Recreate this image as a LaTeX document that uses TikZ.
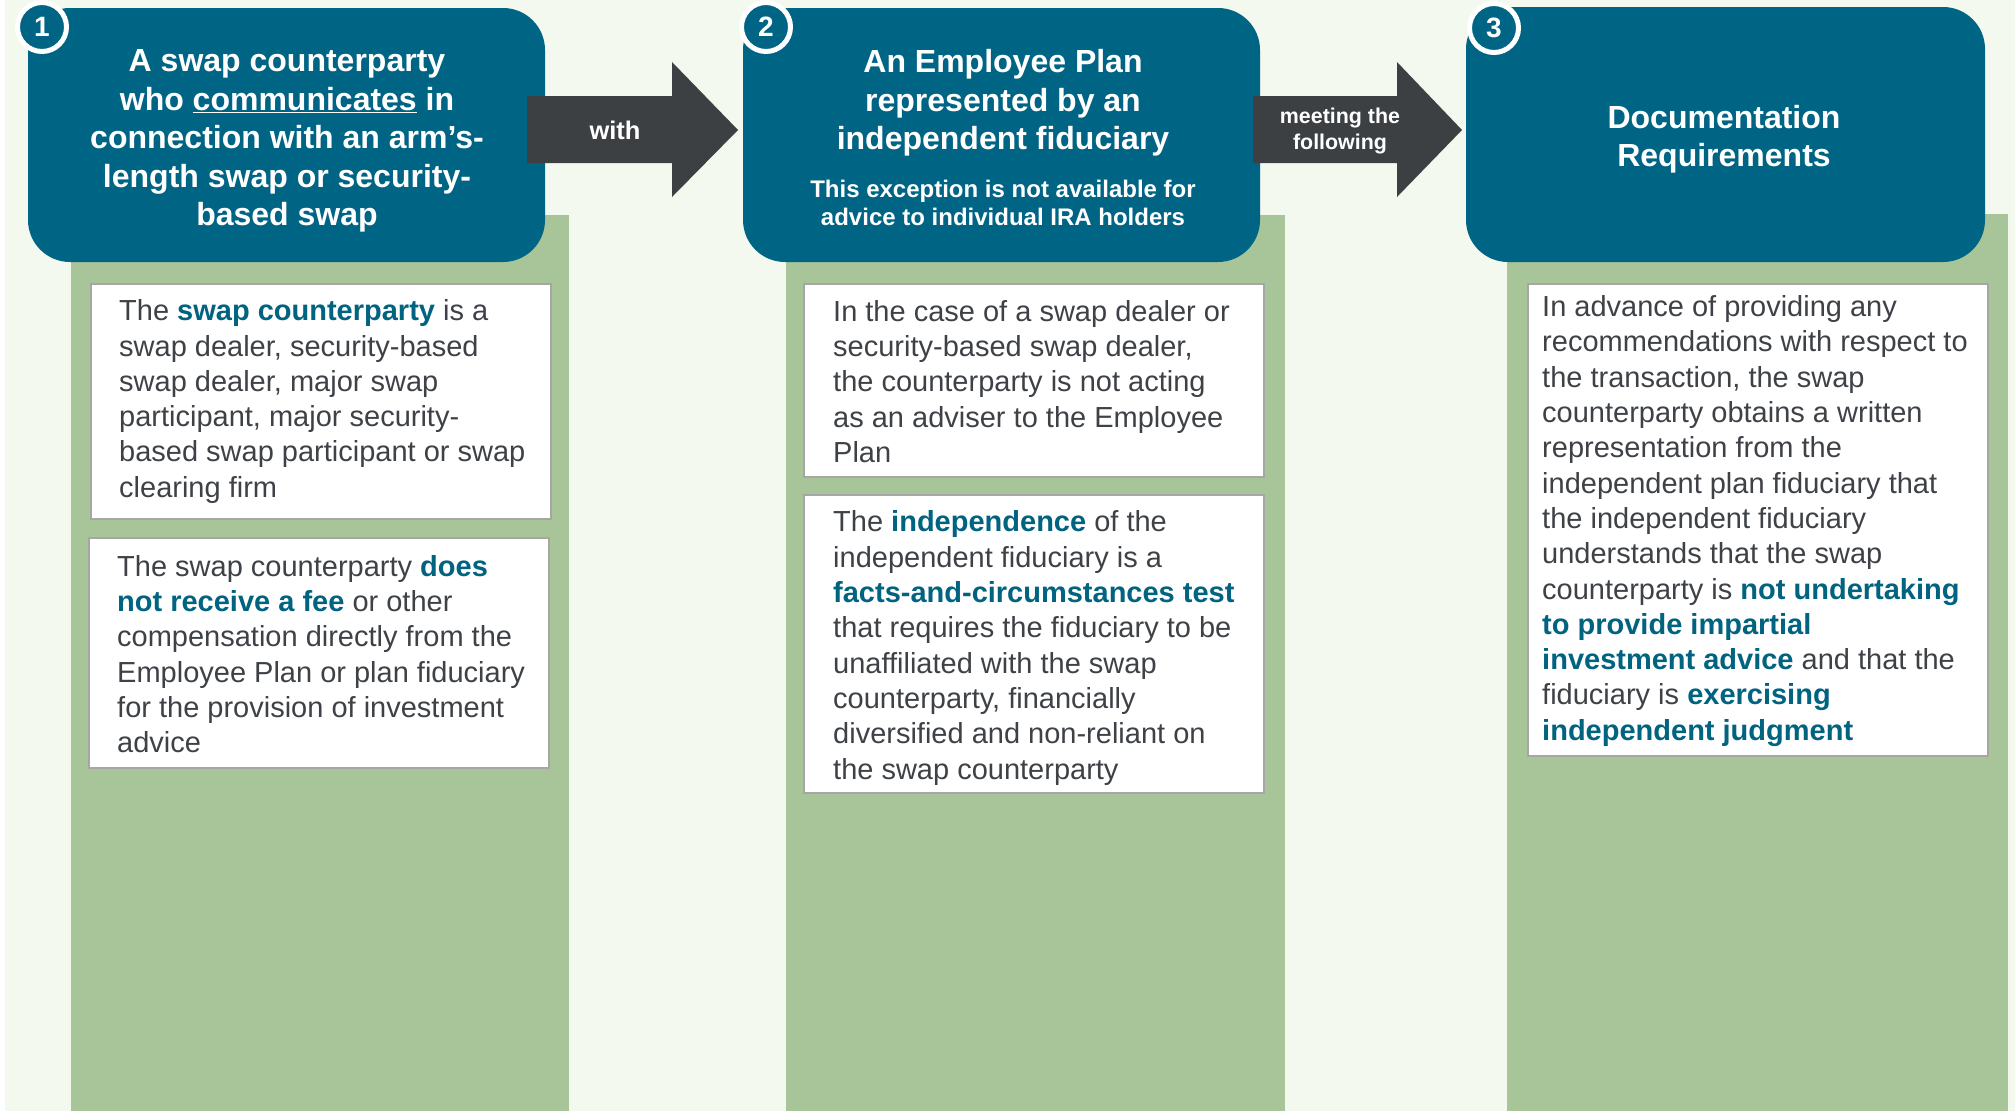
\documentclass[tikz,border=0pt]{standalone}
\usepackage{fontspec}
\setmainfont{Liberation Sans}
\definecolor{hdrteal}{RGB}{0,100,133}
\definecolor{hlteal}{RGB}{0,99,128}
\definecolor{arrowgray}{RGB}{60,64,67}
\definecolor{colgreen}{RGB}{168,196,153}
\definecolor{lightbg}{RGB}{243,249,239}
\definecolor{bodytext}{RGB}{62,66,71}
\definecolor{boxborder}{RGB}{166,166,166}
\newcommand\hlt[1]{\textcolor{hlteal}{\bfseries #1}}
\tikzset{
  hdr/.style={fill=hdrteal, rounded corners=42pt, inner sep=0pt, outer sep=0pt, draw=none},
  hdrtext/.style={text=white, align=center, font=\fontsize{32}{38.5}\selectfont\bfseries, inner sep=0pt},
  subtext/.style={text=white, align=center, font=\fontsize{24}{28.3}\selectfont\bfseries, inner sep=0pt},
  numcirc/.style={circle, draw=white, line width=5pt, fill=hdrteal, minimum size=49pt, inner sep=0pt, text=white, font=\fontsize{28}{28}\selectfont\bfseries},
  wbox/.style={fill=white, draw=boxborder, line width=2pt, inner sep=0pt, outer sep=0pt, minimum width=460pt},
  btext/.style={text=bodytext, align=left, font=\fontsize{29}{35.3}\selectfont, inner sep=0pt, anchor=west},
  arrowfill/.style={fill=arrowgray},
  arrowlbl/.style={text=white, align=center, inner sep=0pt}
}
\begin{document}
\begin{tikzpicture}[x=1pt,y=-1pt]
\useasboundingbox (0,0) rectangle (2015,1111);
\fill[white] (0,0) rectangle (2015,1111);
\fill[lightbg] (5,0) rectangle (2015,1111);
% green columns
\fill[colgreen] (71,215) rectangle (569,1111);
\fill[colgreen] (786,215) rectangle (1285,1111);
\fill[colgreen] (1507,214) rectangle (2008,1111);
% header boxes
\node[hdr, minimum width=517pt, minimum height=254pt] (h1) at (286.5,135) {};
\node[hdr, minimum width=517pt, minimum height=254pt] (h2) at (1001.5,135) {};
\node[hdr, minimum width=519pt, minimum height=255pt] (h3) at (1725.5,134.5) {};
% arrows
\fill[arrowfill] (527,96) -- (672,96) -- (672,62) -- (738,130) -- (672,197) -- (672,163) -- (527,163) -- cycle;
\fill[arrowfill] (1253,96) -- (1397,96) -- (1397,62) -- (1462,130) -- (1397,197) -- (1397,163) -- (1253,163) -- cycle;
\node[arrowlbl, font=\fontsize{25.5}{30}\selectfont\bfseries] (lw) at (615,130) {with};
\node[arrowlbl, font=\fontsize{21.4}{25.5}\selectfont\bfseries] (lm) at (1340,131) {meeting the\\following};
% header texts
\node[hdrtext] (t1) at (287,141) {A swap counterparty\\who \underline{communicates} in\\connection with an arm’s-\\length swap or security-\\based swap};
\node[hdrtext] (t2) at (1003,103) {An Employee Plan\\represented by an\\independent fiduciary};
\node[subtext] (t2s) at (1003,203) {This exception is not available for\\advice to individual IRA holders};
\node[hdrtext] (t3) at (1724,139) {Documentation\\Requirements};
% number circles
\node[numcirc] (n1) at (42,27) {1};
\node[numcirc] (n2) at (766,27) {2};
\node[numcirc] (n3) at (1494,28) {3};
% white boxes
\node[wbox, minimum height=235pt] (c1a) at (321,401.5) {};
\node[wbox, minimum height=230pt] (c1b) at (319,653) {};
\node[wbox, minimum height=193pt] (c2a) at (1034,380.5) {};
\node[wbox, minimum height=298pt] (c2b) at (1034,644) {};
\node[wbox, minimum height=472pt] (c3) at (1758,520) {};
% body texts
\node[btext] (x1a) at ([xshift=28pt]c1a.west) {The \hlt{swap counterparty} is a\\swap dealer, security-based\\swap dealer, major swap\\participant, major security-\\based swap participant or swap\\clearing firm};
\node[btext] (x1b) at ([xshift=28pt,yshift=-1pt]c1b.west) {The swap counterparty \hlt{does}\\\hlt{not receive a fee} or other\\compensation directly from the\\Employee Plan or plan fiduciary\\for the provision of investment\\advice};
\node[btext] (x2a) at ([xshift=29pt,yshift=-1pt]c2a.west) {In the case of a swap dealer or\\security-based swap dealer,\\the counterparty is not acting\\as an adviser to the Employee\\Plan};
\node[btext] (x2b) at ([xshift=29pt,yshift=-4pt]c2b.west) {The \hlt{independence} of the\\independent fiduciary is a\\\hlt{facts-and-circumstances test}\\that requires the fiduciary to be\\unaffiliated with the swap\\counterparty, financially\\diversified and non-reliant on\\the swap counterparty};
\node[btext] (x3) at ([xshift=14pt,yshift=-1pt]c3.west) {In advance of providing any\\recommendations with respect to\\the transaction, the swap\\counterparty obtains a written\\representation from the\\independent plan fiduciary that\\the independent fiduciary\\understands that the swap\\counterparty is \hlt{not undertaking}\\\hlt{to provide impartial}\\\hlt{investment advice} and that the\\fiduciary is \hlt{exercising}\\\hlt{independent judgment}};
\end{tikzpicture}
\end{document}
